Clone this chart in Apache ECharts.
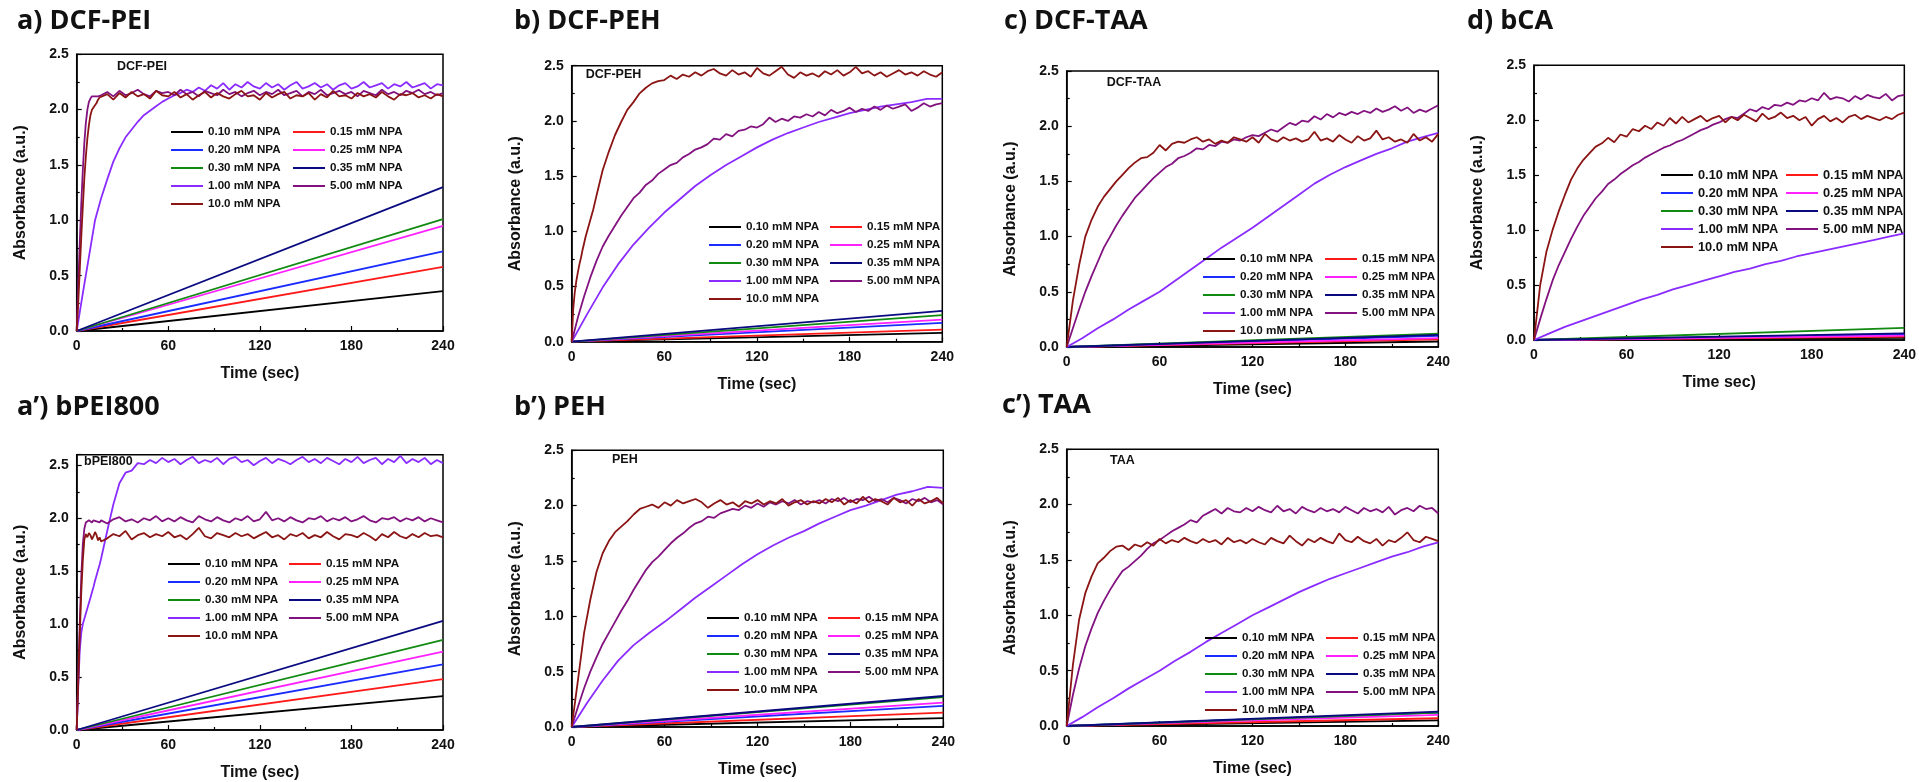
<!DOCTYPE html>
<html>
<head>
<meta charset="utf-8">
<script src="https://cdn.jsdelivr.net/npm/echarts@6/dist/echarts.min.js"></script>
<style>
html,body{margin:0;padding:0;background:#fff;}
#c{width:1919px;height:782px;}
</style>
</head>
<body>
<div id="c"></div>
<script>
// ---------- series names / colours ----------
const NAMES = ['0.10 mM NPA','0.15 mM NPA','0.20 mM NPA','0.25 mM NPA','0.30 mM NPA','0.35 mM NPA','1.00 mM NPA','5.00 mM NPA','10.0 mM NPA'];
const COLORS = ['#000000','#ff1a1a','#1a2cff','#ff22ff','#118a11','#0a0a80','#8a2cff','#82127f','#8b1414'];
const X_TICKS = [0, 60, 120, 180, 240];

// ---------- time grids (sec) ----------
const T_LIN = [0, 240];
const GF = [0,1,2,3,4,5,6,7,8,9, 10,11,12,13,14,15,16,
  20,24,28,32,36,40,44,48,52,56, 60,64,68,72,76,80,84,88,92,96,
  100,104,108,112,116,120,124,128,132,136, 140,144,148,152,156,160,164,168,172,176,
  180,184,188,192,196,200,204,208,212,216, 220,224,228,232,236,240];
const G4 = [0,4,8,12,16,20,24,28,32,36, 40,44,48,52,56,60,64,68,72,76,
  80,84,88,92,96,100,104,108,112,116, 120,124,128,132,136,140,144,148,152,156,
  160,164,168,172,176,180,184,188,192,196, 200,204,208,212,216,220,224,228,232,236, 240];
const G10 = [0,10,20,30,40,50,60,70,80,90,100,110,120,130,140,150,160,170,180,190,200,210,220,230,240];

// ---------- a) DCF-PEI ----------
const A_LIN = [0.36, 0.58, 0.72, 0.95, 1.01, 1.30]; // value at 240 s (0 at 0 s)
const A_V1 = [0,0.34,0.67,1.0,1.2,1.37,1.53,1.65,1.75,1.82,
 1.89,1.95,1.99,2.03,2.07,2.10,2.13,2.15,2.18,2.16,
 2.20,2.17,2.22,2.19,2.24,2.18,2.23,2.20,2.25,2.21,
 2.19,2.24,2.20,2.23,2.18,2.22,2.25,2.19,2.21,2.24,
 2.20,2.23,2.18,2.22,2.24,2.19,2.21,2.25,2.20,2.22,
 2.24,2.19,2.23,2.21,2.25,2.20,2.22,2.24,2.19,2.23, 2.22];
const A_V5 = [0,0.4,0.8,1.15,1.45,1.7,1.88,2.0,2.07,2.10,
 2.12,2.12,2.12,2.12,2.12,2.12,2.13,
 2.16,2.12,2.17,2.13,2.15,2.18,2.14,2.12,2.17,2.15,
 2.16,2.13,2.18,2.14,2.16,2.12,2.17,2.15,2.13,2.18,
 2.14,2.16,2.12,2.15,2.17,2.13,2.16,2.14,2.18,2.13,
 2.15,2.17,2.12,2.16,2.14,2.18,2.13,2.15,2.17,2.14,
 2.16,2.12,2.17,2.15,2.13,2.18,2.14,2.16,2.13,2.17,
 2.15,2.18,2.14,2.16,2.13,2.15];
const A_V10 = [0,0.25,0.55,0.85,1.12,1.38,1.58,1.74,1.86,1.95,
 2.00,2.02,2.03,2.06,2.09,2.11,2.10,
 2.14,2.09,2.15,2.11,2.16,2.12,2.14,2.10,2.17,2.13,
 2.12,2.16,2.11,2.14,2.09,2.13,2.16,2.11,2.15,2.12,
 2.10,2.14,2.17,2.12,2.13,2.09,2.15,2.11,2.14,2.16,
 2.10,2.13,2.12,2.15,2.09,2.14,2.11,2.17,2.12,2.13,
 2.10,2.15,2.12,2.14,2.11,2.16,2.12,2.09,2.14,2.13,
 2.15,2.11,2.13,2.10,2.14,2.12];

// ---------- a') bPEI800 ----------
const AP_LIN = [0.32, 0.48, 0.62, 0.74, 0.85, 1.03];
const AP_V1 = [0,0.4,0.75,0.92,1.0,1.05,1.1,1.15,1.2,1.25,
 1.3,1.35,1.41,1.46,1.51,1.56,1.62,
 1.88,2.13,2.33,2.43,2.45,2.52,2.51,2.55,2.52,2.57,
 2.53,2.56,2.51,2.55,2.58,2.52,2.55,2.53,2.57,2.51,
 2.56,2.58,2.53,2.55,2.50,2.54,2.57,2.52,2.56,2.54,
 2.51,2.55,2.58,2.53,2.56,2.52,2.57,2.54,2.51,2.56,
 2.53,2.58,2.52,2.55,2.57,2.51,2.56,2.53,2.59,2.52,
 2.56,2.53,2.57,2.51,2.55,2.52];
const AP_V5 = [0,0.5,1.0,1.45,1.75,1.9,1.96,1.95,1.98,1.97,
 1.96,1.98,1.99,1.97,1.98,1.96,1.98,
 1.95,1.99,2.01,1.97,1.99,1.96,2.00,1.98,2.02,1.97,
 2.00,1.97,2.01,1.98,1.96,2.02,1.99,1.97,2.01,1.98,
 1.96,2.00,1.98,2.02,1.97,1.99,2.06,1.98,2.00,1.97,
 2.01,1.98,1.96,2.00,1.99,2.02,1.97,2.00,1.98,2.01,
 1.97,1.99,2.02,1.98,1.96,2.00,1.99,2.01,1.97,2.00,
 1.98,2.01,1.97,2.00,1.98,1.96];
const AP_V10 = [0,0.45,0.9,1.3,1.6,1.8,1.85,1.82,1.86,1.84,
 1.80,1.83,1.87,1.84,1.79,1.82,1.78,
 1.81,1.85,1.83,1.88,1.80,1.84,1.86,1.82,1.85,1.83,
 1.87,1.82,1.84,1.80,1.85,1.91,1.83,1.81,1.86,1.84,
 1.82,1.86,1.83,1.85,1.81,1.84,1.87,1.82,1.84,1.80,
 1.85,1.83,1.86,1.81,1.84,1.82,1.87,1.83,1.80,1.85,
 1.84,1.82,1.86,1.83,1.79,1.85,1.82,1.87,1.83,1.81,
 1.85,1.82,1.86,1.83,1.84,1.82];

// ---------- b) DCF-PEH ----------
const B_LIN = [0.08, 0.11, 0.17, 0.20, 0.24, 0.28];
const B_V1 = [0,0.25,0.49,0.7,0.88,1.03,1.17,1.29,1.41,1.51,1.6,1.68,1.76,1.83,1.89,1.94,1.99,2.03,2.07,2.1,2.13,2.15,2.17,2.2,2.2];
const B_V5 = [0,0.22,0.41,0.58,0.73,0.86,0.96,1.05,1.14,1.22,
 1.30,1.35,1.42,1.46,1.52,1.56,1.60,1.62,1.67,1.70,
 1.74,1.76,1.79,1.84,1.83,1.88,1.86,1.91,1.92,1.95,
 1.94,1.97,2.03,1.99,2.02,2.00,2.04,2.03,2.06,2.04,
 2.08,2.05,2.10,2.07,2.09,2.12,2.08,2.11,2.09,2.13,
 2.10,2.14,2.11,2.13,2.15,2.09,2.12,2.16,2.13,2.15, 2.16];
const B_V10 = [0,0.3,0.45,0.55,0.63,0.7,0.76,0.83,0.89,0.95,
 1.0,1.05,1.1,1.15,1.2,1.26,1.32,
 1.55,1.72,1.87,1.99,2.1,2.17,2.25,2.30,2.34,2.36,
 2.37,2.41,2.38,2.42,2.40,2.44,2.41,2.45,2.47,2.43,
 2.41,2.46,2.42,2.44,2.40,2.48,2.43,2.41,2.45,2.49,
 2.42,2.39,2.44,2.41,2.43,2.40,2.45,2.42,2.46,2.41,
 2.44,2.49,2.43,2.45,2.41,2.44,2.40,2.43,2.46,2.42,
 2.44,2.41,2.45,2.42,2.40,2.44];

// ---------- b') PEH ----------
const BP_LIN = [0.08, 0.13, 0.19, 0.22, 0.27, 0.28];
const BP_V1 = [0,0.22,0.42,0.6,0.74,0.85,0.95,1.06,1.17,1.27,1.37,1.47,1.56,1.64,1.71,1.77,1.84,1.9,1.96,2.0,2.05,2.1,2.13,2.17,2.16];
const BP_V5 = [0,0.18,0.35,0.5,0.63,0.75,0.85,0.95,1.05,1.14,
 1.24,1.33,1.42,1.49,1.54,1.60,1.66,1.71,1.75,1.80,
 1.84,1.86,1.90,1.89,1.93,1.95,1.97,1.96,2.00,1.98,
 2.02,1.99,2.03,2.01,2.04,2.02,2.05,2.01,2.04,2.03,
 2.05,2.02,2.06,2.04,2.07,2.03,2.06,2.05,2.08,2.04,
 2.06,2.03,2.07,2.05,2.02,2.06,2.04,2.07,2.03,2.05, 2.01];
const BP_V10 = [0,0.42,0.85,1.15,1.4,1.57,1.68,1.76,1.81,1.86,
 1.92,1.97,1.99,2.01,1.98,2.03,2.00,2.05,2.02,2.04,
 2.06,2.03,1.98,2.02,2.05,2.01,2.03,1.99,2.04,2.02,
 2.05,2.01,2.04,2.02,2.06,2.00,2.03,2.05,2.01,2.04,
 2.02,2.06,2.03,2.07,2.01,2.05,2.02,2.08,2.03,2.06,
 2.04,2.01,2.07,2.03,2.05,2.00,2.06,2.02,2.04,2.07, 2.02];

// ---------- c) DCF-TAA ----------
const C_LIN = [0.05, 0.07, 0.10, 0.08, 0.12, 0.11];
const C_V1 = [0,0.08,0.17,0.25,0.34,0.42,0.5,0.6,0.7,0.8,0.9,0.99,1.08,1.18,1.28,1.38,1.48,1.56,1.63,1.69,1.75,1.8,1.86,1.9,1.94];
const C_V5 = [0,0.17,0.34,0.5,0.64,0.77,0.9,1.0,1.1,1.19,
 1.27,1.35,1.41,1.47,1.53,1.58,1.63,1.66,1.71,1.73,
 1.76,1.80,1.79,1.83,1.82,1.86,1.85,1.88,1.87,1.90,
 1.92,1.91,1.94,1.97,1.95,1.99,2.03,2.01,2.05,2.04,
 2.09,2.06,2.11,2.08,2.12,2.10,2.13,2.11,2.14,2.12,
 2.16,2.13,2.15,2.18,2.14,2.17,2.12,2.15,2.13,2.16, 2.19];
const C_V10 = [0,0.42,0.74,1.0,1.15,1.27,1.36,1.43,1.5,1.56,
 1.62,1.67,1.71,1.72,1.76,1.83,1.78,1.84,1.86,1.85,
 1.88,1.90,1.86,1.88,1.84,1.87,1.85,1.90,1.88,1.86,
 1.90,1.85,1.93,1.88,1.86,1.90,1.87,1.89,1.86,1.88,
 1.95,1.87,1.89,1.86,1.92,1.88,1.85,1.91,1.87,1.89,
 1.96,1.88,1.90,1.86,1.88,1.85,1.93,1.87,1.90,1.86, 1.93];

// ---------- c') TAA ----------
const CP_LIN = [0.05, 0.07, 0.12, 0.10, 0.12, 0.13];
const CP_V1 = [0,0.08,0.17,0.25,0.34,0.42,0.5,0.59,0.67,0.76,0.84,0.92,1.0,1.07,1.14,1.21,1.27,1.33,1.38,1.43,1.48,1.53,1.57,1.62,1.66];
const CP_V5 = [0,0.28,0.52,0.72,0.88,1.02,1.13,1.23,1.32,1.40,
 1.44,1.49,1.54,1.60,1.65,1.68,1.72,1.76,1.79,1.82,
 1.86,1.84,1.90,1.93,1.96,1.92,1.97,1.94,1.93,1.97,
 1.94,1.98,1.95,1.93,1.99,1.94,1.96,1.92,1.98,1.95,
 1.93,1.97,1.94,1.96,1.93,1.98,1.95,1.92,1.97,1.94,
 1.96,1.93,1.98,1.91,1.95,1.97,1.94,1.99,1.96,1.97, 1.92];
const CP_V10 = [0,0.55,0.96,1.2,1.35,1.47,1.52,1.58,1.62,1.63,
 1.59,1.64,1.62,1.66,1.63,1.69,1.65,1.68,1.66,1.70,
 1.67,1.65,1.69,1.66,1.68,1.64,1.70,1.66,1.68,1.65,
 1.69,1.66,1.64,1.70,1.67,1.65,1.72,1.67,1.63,1.69,
 1.66,1.70,1.67,1.65,1.74,1.68,1.66,1.71,1.67,1.65,
 1.69,1.63,1.68,1.66,1.70,1.75,1.68,1.66,1.71,1.69, 1.67];

// ---------- d) bCA ----------
const D_LIN = [0.02, 0.03, 0.05, 0.04, 0.11, 0.06];
const D_V1 = [0,0.06,0.12,0.17,0.22,0.27,0.32,0.37,0.41,0.46,0.5,0.54,0.58,0.62,0.65,0.69,0.72,0.76,0.79,0.82,0.85,0.88,0.91,0.94,0.97];
const D_V5 = [0,0.19,0.37,0.54,0.68,0.8,0.92,1.03,1.13,1.21,
 1.29,1.35,1.42,1.46,1.51,1.55,1.59,1.62,1.66,1.69,
 1.72,1.75,1.77,1.80,1.82,1.85,1.88,1.91,1.93,1.96,
 1.98,2.01,2.03,2.02,2.06,2.10,2.08,2.12,2.10,2.14,
 2.13,2.16,2.14,2.18,2.17,2.20,2.18,2.25,2.19,2.21,
 2.20,2.17,2.22,2.19,2.23,2.21,2.20,2.24,2.18,2.22, 2.23];
const D_V10 = [0,0.5,0.8,1.0,1.17,1.32,1.46,1.56,1.64,1.7,
 1.76,1.79,1.84,1.80,1.87,1.85,1.92,1.90,1.95,1.92,
 1.98,1.95,2.02,1.97,2.03,1.98,2.01,2.04,1.99,2.02,
 2.04,1.98,2.03,2.00,2.05,2.02,1.99,2.06,2.01,2.03,
 2.07,2.02,2.04,2.00,2.03,1.95,2.01,2.04,1.99,2.02,
 1.98,2.03,2.05,2.01,2.04,2.02,2.00,2.03,2.01,2.05, 2.07];

// ---------- panel assembly (layout only) ----------
const PANELS = [
 {title:'a) DCF-PEI', tx:17, ty:8, inner:'DCF-PEI', ix:117, iy:60, xName:'Time (sec)', yMax:2.5,
  grid:{left:76.7, top:54.3, width:366.3, height:276.7}, lin:A_LIN,
  curves:[[G4,A_V1],[GF,A_V5],[GF,A_V10]], lg:{x:171, y:132, fs:11.6, w:81}},
 {title:'b) DCF-PEH', tx:514, ty:8, inner:'DCF-PEH', ix:585.7, iy:68, xName:'Time (sec)', yMax:2.5,
  grid:{left:571.7, top:65.7, width:370.6, height:276}, lin:B_LIN,
  curves:[[G10,B_V1],[G4,B_V5],[GF,B_V10]], lg:{x:709, y:227, fs:11.7, w:80}},
 {title:'c) DCF-TAA', tx:1004, ty:8, inner:'DCF-TAA', ix:1106.7, iy:76, xName:'Time (sec)', yMax:2.5,
  grid:{left:1066.7, top:71, width:371.6, height:276}, lin:C_LIN,
  curves:[[G10,C_V1],[G4,C_V5],[G4,C_V10]], lg:{x:1203, y:259, fs:11.7, w:81}},
 {title:'d) bCA', tx:1467, ty:8, inner:'', ix:0, iy:0, xName:'Time sec)', yMax:2.5,
  grid:{left:1534, top:65.3, width:371.7, height:274.7}, lin:D_LIN,
  curves:[[G10,D_V1],[G4,D_V5],[G4,D_V10]], lg:{x:1661, y:175, fs:12.8, w:84}},
 {title:'a\u2019) bPEI800', tx:17, ty:394, inner:'bPEI800', ix:84, iy:455, xName:'Time (sec)', yMax:2.6,
  grid:{left:76.7, top:454.7, width:366.3, height:276.3}, lin:AP_LIN,
  curves:[[GF,AP_V1],[GF,AP_V5],[GF,AP_V10]], lg:{x:168, y:564, fs:11.7, w:80}},
 {title:'b\u2019) PEH', tx:514, ty:394, inner:'PEH', ix:612, iy:453, xName:'Time (sec)', yMax:2.5,
  grid:{left:571.7, top:450.3, width:371.6, height:276.7}, lin:BP_LIN,
  curves:[[G10,BP_V1],[G4,BP_V5],[G4,BP_V10]], lg:{x:707, y:618, fs:11.8, w:80}},
 {title:'c\u2019) TAA', tx:1002, ty:392, inner:'TAA', ix:1110, iy:454, xName:'Time (sec)', yMax:2.5,
  grid:{left:1066.7, top:449.3, width:371.6, height:276.7}, lin:CP_LIN,
  curves:[[G10,CP_V1],[G4,CP_V5],[G4,CP_V10]], lg:{x:1205, y:638, fs:11.6, w:80}}
];

const FONT = "'Liberation Sans', Arial, sans-serif";
const option = {animation:false, backgroundColor:'#fff', title:[], grid:[], xAxis:[], yAxis:[], legend:[], series:[]};

function pairs(t, v){ const out=[]; for(let i=0;i<Math.min(t.length,v.length);i++) out.push([t[i], v[i]]); return out; }

PANELS.forEach((p, k) => {
  option.title.push({text:p.title, left:p.tx, top:p.ty, padding:0,
    textStyle:{fontFamily:"'Open Sans'", fontWeight:'bold', fontSize:27, color:'#111'}});
  if (p.inner) option.title.push({text:p.inner, left:p.ix, top:p.iy, padding:0,
    textStyle:{fontFamily:FONT, fontWeight:'bold', fontSize:12.5, color:'#111'}});
  option.grid.push(Object.assign({show:true, borderColor:'#000', borderWidth:1.5, backgroundColor:'#fff'}, p.grid));
  option.xAxis.push({type:'value', gridIndex:k, min:0, max:240, interval:60,
    name:p.xName, nameLocation:'middle', nameGap:35,
    nameTextStyle:{fontFamily:FONT, fontWeight:'bold', fontSize:16, color:'#111'},
    axisLine:{show:true, onZero:false, lineStyle:{color:'#000', width:1.5}},
    axisTick:{show:true, inside:true, length:5, lineStyle:{color:'#000', width:1.2}},
    minorTick:{show:true, splitNumber:2, length:3, lineStyle:{color:'#000', width:1.2}},
    splitLine:{show:false},
    axisLabel:{margin:8, fontFamily:FONT, fontWeight:'bold', fontSize:14, color:'#111',
      formatter:v => X_TICKS.includes(v) ? String(v) : ''}});
  option.yAxis.push({type:'value', gridIndex:k, min:0, max:p.yMax, interval:0.5,
    name:'Absorbance (a.u.)', nameLocation:'middle', nameGap:48,
    nameTextStyle:{fontFamily:FONT, fontWeight:'bold', fontSize:16, color:'#111'},
    axisLine:{show:true, onZero:false, lineStyle:{color:'#000', width:1.5}},
    axisTick:{show:true, inside:true, length:5, lineStyle:{color:'#000', width:1.2}},
    minorTick:{show:true, splitNumber:2, length:3, lineStyle:{color:'#000', width:1.2}},
    splitLine:{show:false},
    axisLabel:{margin:8, fontFamily:FONT, fontWeight:'bold', fontSize:14, color:'#111',
      formatter:v => Math.abs(v*2 - Math.round(v*2)) < 1e-6 ? v.toFixed(1) : ''}});
  option.legend.push({data:NAMES, left:p.lg.x, top:p.lg.y - 7, width:260, orient:'horizontal',
    padding:0, itemGap:4, itemWidth:32, itemHeight:2, icon:'rect', selectedMode:false,
    textStyle:{fontFamily:FONT, fontWeight:'bold', fontSize:p.lg.fs, color:'#111', width:p.lg.w, lineHeight:14}});
  const mk = (name, color, data) => ({type:'line', name, xAxisIndex:k, yAxisIndex:k, data,
    showSymbol:false, symbol:'none', color, lineStyle:{color, width:1.8}, silent:true, z:3});
  p.lin.forEach((end, i) => option.series.push(mk(NAMES[i], COLORS[i], pairs(T_LIN, [0, end]))));
  p.curves.forEach((c, j) => option.series.push(mk(NAMES[6+j], COLORS[6+j], pairs(c[0], c[1]))));
});

const chart = echarts.init(document.getElementById('c'), null, {renderer:'canvas'});
chart.setOption(option);
</script>
</body>
</html>
